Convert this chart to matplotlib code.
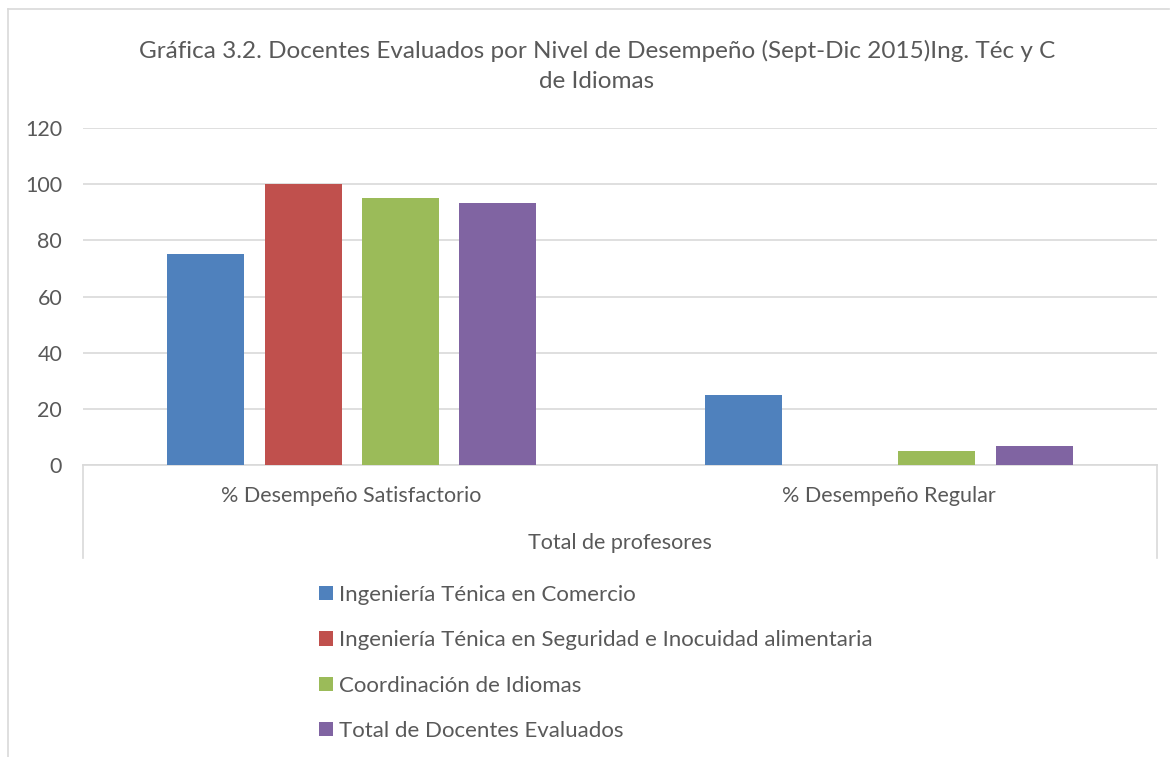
import numpy as np
import matplotlib
matplotlib.use('Agg')
from matplotlib import pyplot as plt
from matplotlib.lines import Line2D
from matplotlib.patches import Patch

# datos de la grafica
categorias = ['% Desempeño Satisfactorio', '% Desempeño Regular']
series = ['Ingeniería Ténica en Comercio',
          'Ingeniería Ténica en Seguridad e Inocuidad alimentaria',
          'Coordinación de Idiomas',
          'Total de Docentes Evaluados']
comercio = [75, 25]
seguridad = [100, 0]
idiomas = [95, 5]
total = [93.3, 6.7]
valores = [comercio, seguridad, idiomas, total]
colores = ['#4F81BD', '#C0504D', '#9BBB59', '#8064A2']

titulo = 'Gráfica 3.2. Docentes Evaluados por Nivel de Desempeño (Sept-Dic 2015)Ing. Téc y C\nde Idiomas'
eje_x = 'Total de profesores'
yticks = [0, 20, 40, 60, 80, 100, 120]

gris = '#595959'
linea = '#D9D9D9'
plt.rcParams['font.family'] = ['Lato', 'DejaVu Sans']
fs = 15.5  # tamaño de letra general

W, H = 1172, 757
fig = plt.figure(figsize=(W / 100, H / 100), dpi=100)

# marco exterior del grafico
fig.add_artist(Line2D([8 / W, 8 / W], [0, 1 - 9 / H], color=linea, lw=1.2))
fig.add_artist(Line2D([8 / W, 1169 / W], [1 - 9 / H, 1 - 9 / H], color=linea, lw=1.2))

ax = fig.add_axes([83 / W, 1 - 465 / H, (1157 - 83) / W, (465 - 128) / H])
x = np.arange(len(categorias))
ancho = 77 / 537  # ancho de barra
paso = 97 / 537  # separacion entre barras
for i, (vals, c) in enumerate(zip(valores, colores)):
    ax.bar(x + (i - 1.5) * paso, vals, ancho, color=c, label=series[i], zorder=3)

ax.set_xlim(-0.5, 1.5)
ax.set_ylim(0, 120)
ax.set_yticks(yticks)
ax.set_yticklabels([str(v) for v in yticks], color=gris, fontsize=fs)
ax.yaxis.grid(True, color=linea, lw=1.2, zorder=0)
for s in ['top', 'right', 'left']:
    ax.spines[s].set_visible(False)
ax.spines['bottom'].set_color(linea)
ax.spines['bottom'].set_linewidth(1.2)
ax.tick_params(axis='y', length=0, pad=15)
ax.tick_params(axis='x', length=0, pad=15)
ax.set_xticks(x)
ax.set_xticklabels(categorias, color=gris, fontsize=fs)

# caja del eje de categorias
yb = -(558 - 465) / (465 - 128)
for xx in [0, 1]:
    ax.add_artist(Line2D([xx, xx], [0, yb], transform=ax.transAxes, color=linea,
                         lw=1.2, clip_on=False))
ax.text(0.5, -(543 - 465) / (465 - 128), eje_x, transform=ax.transAxes, ha='center',
        va='center', color=gris, fontsize=fs)

fig.text(597 / W, 1 - 66 / H, titulo, ha='center', va='center', color=gris, fontsize=17.5,
         linespacing=1.55)

handles = [Patch(facecolor=c, edgecolor='none') for c in colores]
leg = fig.legend(handles, series, loc='upper left', bbox_to_anchor=(319 / W, 1 - 585 / H),
                 frameon=False, fontsize=16, handlelength=0.63, handleheight=0.63,
                 handletextpad=0.25, labelspacing=1.14, borderpad=0, borderaxespad=0)
for t in leg.get_texts():
    t.set_color(gris)

fig.savefig('out.png', dpi=100)
